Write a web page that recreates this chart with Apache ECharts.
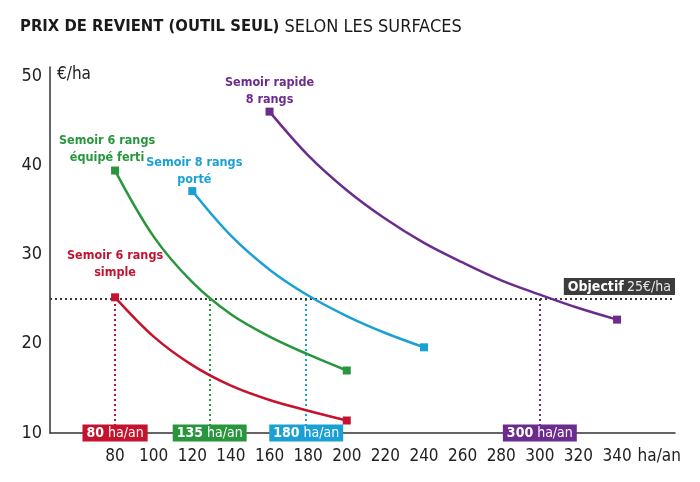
<!DOCTYPE html>
<html><head><meta charset="utf-8">
<script src="https://cdn.jsdelivr.net/npm/echarts@6/dist/echarts.min.js"></script>
<style>html,body{margin:0;padding:0;background:#fff}#c{width:700px;height:482px}</style>
</head><body><div id="c"></div>
<script>
var FONT = "'DejaVu Sans Condensed','Liberation Sans Narrow','Roboto',sans-serif";
var xTicks = [80,100,120,140,160,180,200,220,240,260,280,300,320,340];
var yTicks = [10,20,30,40,50];
var names = ['Semoir 6 rangs\nsimple','Semoir 6 rangs\néquipé ferti','Semoir 8 rangs\nporté','Semoir rapide\n8 rangs'];
var colors = ['#c4122f','#27963c','#1aa0d4','#6b2c8e'];
var xRed = [80,100,120,140,160,180,200];
var yRed = [25.2,20.8,17.6,15.3,13.7,12.5,11.4];
var xGreen = [80,100,120,140,160,180,200];
var yGreen = [39.4,32.0,26.9,23.3,20.8,18.8,17.0];
var xBlue = [120,140,160,180,200,220,240];
var yBlue = [37.1,32.1,28.3,25.4,23.1,21.2,19.6];
var xPurple = [160,180,200,220,240,260,280,300,320,340];
var yPurple = [46.0,41.1,37.2,34.0,31.3,29.1,27.1,25.5,24.0,22.7];
var objective = 25;
var crossX = [80,129,179,300];
var crossLabels = ['80','135','180','300'];
var labelOffsets = [[0,-4],[-8,8],[2,9],[0,9]];

var xs = [xRed,xGreen,xBlue,xPurple], ys=[yRed,yGreen,yBlue,yPurple];
var series = xs.map(function(xa,i){
  var data = xa.map(function(x,j){
    var item = {value:[x,ys[i][j]]};
    if (j===0 || j===xa.length-1){ item.symbol='rect'; item.symbolSize=8; }
    else { item.symbol='none'; }
    if (j===0){
      item.label={show:true,position:'top',distance:8,offset:labelOffsets[i],
        formatter:names[i],color:colors[i],fontFamily:FONT,fontWeight:'bold',fontSize:12.5,lineHeight:17,align:'center'};
    }
    return item;
  });
  return {type:'line',name:names[i],data:data,smooth:0.35,
    lineStyle:{color:colors[i],width:2.5},itemStyle:{color:colors[i]},
    label:{show:false},z:5,
    markLine:{silent:true,symbol:'none',animation:false,
      lineStyle:{color:colors[i],type:[2,3],width:2},label:{show:false},
      data:[[{coord:[crossX[i],objective]},{coord:[crossX[i],10]}]]},
    markPoint:{silent:true,animation:false,symbolSize:0,
      data:[{coord:[crossX[i],10],value:crossLabels[i]}],
      label:{show:true,position:'inside',backgroundColor:colors[i],padding:[2,4,1,4],
        formatter:function(p){return '{b|'+p.value+'}{r| ha/an}';},
        rich:{b:{color:'#fff',fontFamily:FONT,fontWeight:'bold',fontSize:14},
              r:{color:'#fff',fontFamily:FONT,fontWeight:'normal',fontSize:14}}}}
  };
});
series.push({type:'line',data:[],z:3,
  markLine:{silent:true,symbol:'none',animation:false,
    lineStyle:{color:'#3a3a3a',type:[2,3],width:2},
    data:[{yAxis:objective}],
    label:{show:true,position:'insideEndTop',distance:[0,4],backgroundColor:'#3c3c3c',padding:[2,4,1,4],
      formatter:'{b|Objectif} {r|'+objective+'€/ha}',
      rich:{b:{color:'#fff',fontFamily:FONT,fontWeight:'bold',fontSize:14},
            r:{color:'#e8e8e8',fontFamily:FONT,fontWeight:'normal',fontSize:14}}}}
});

var chart = echarts.init(document.getElementById('c'));
chart.setOption({
  animation:false,
  backgroundColor:'#fff',
  title:{left:15,top:13,text:'{b|PRIX DE REVIENT (OUTIL SEUL)}{r| SELON LES SURFACES}',
    textStyle:{fontWeight:'normal',rich:{b:{fontFamily:FONT,fontWeight:'bold',fontSize:16.5,color:'#1a1a1a'},
                     r:{fontFamily:FONT,fontWeight:'normal',fontSize:18,color:'#1a1a1a'}}}},
  grid:{left:50,right:25,top:67,bottom:49,containLabel:false},
  xAxis:{type:'value',min:46.3,max:370,
    axisLine:{show:true,lineStyle:{color:'#333',width:1.5}},
    axisTick:{show:false},splitLine:{show:false},
    axisLabel:{customValues:xTicks,fontFamily:FONT,fontSize:17,color:'#222',margin:15},
    name:'ha/an',nameLocation:'end',nameGap:-43,
    nameTextStyle:{align:'left',verticalAlign:'top',padding:[15,0,0,0],fontFamily:FONT,fontSize:17,color:'#222'}},
  yAxis:{type:'value',min:10,max:51,
    axisLine:{show:true,lineStyle:{color:'#333',width:1.5}},
    axisTick:{show:false},splitLine:{show:false},
    axisLabel:{customValues:yTicks,fontFamily:FONT,fontSize:18,color:'#222',margin:8},
    name:'€/ha',nameLocation:'end',nameGap:-8,
    nameTextStyle:{align:'left',verticalAlign:'middle',padding:[0,0,0,7],fontFamily:FONT,fontSize:17,color:'#222'}},
  series:series
});
</script></body></html>
